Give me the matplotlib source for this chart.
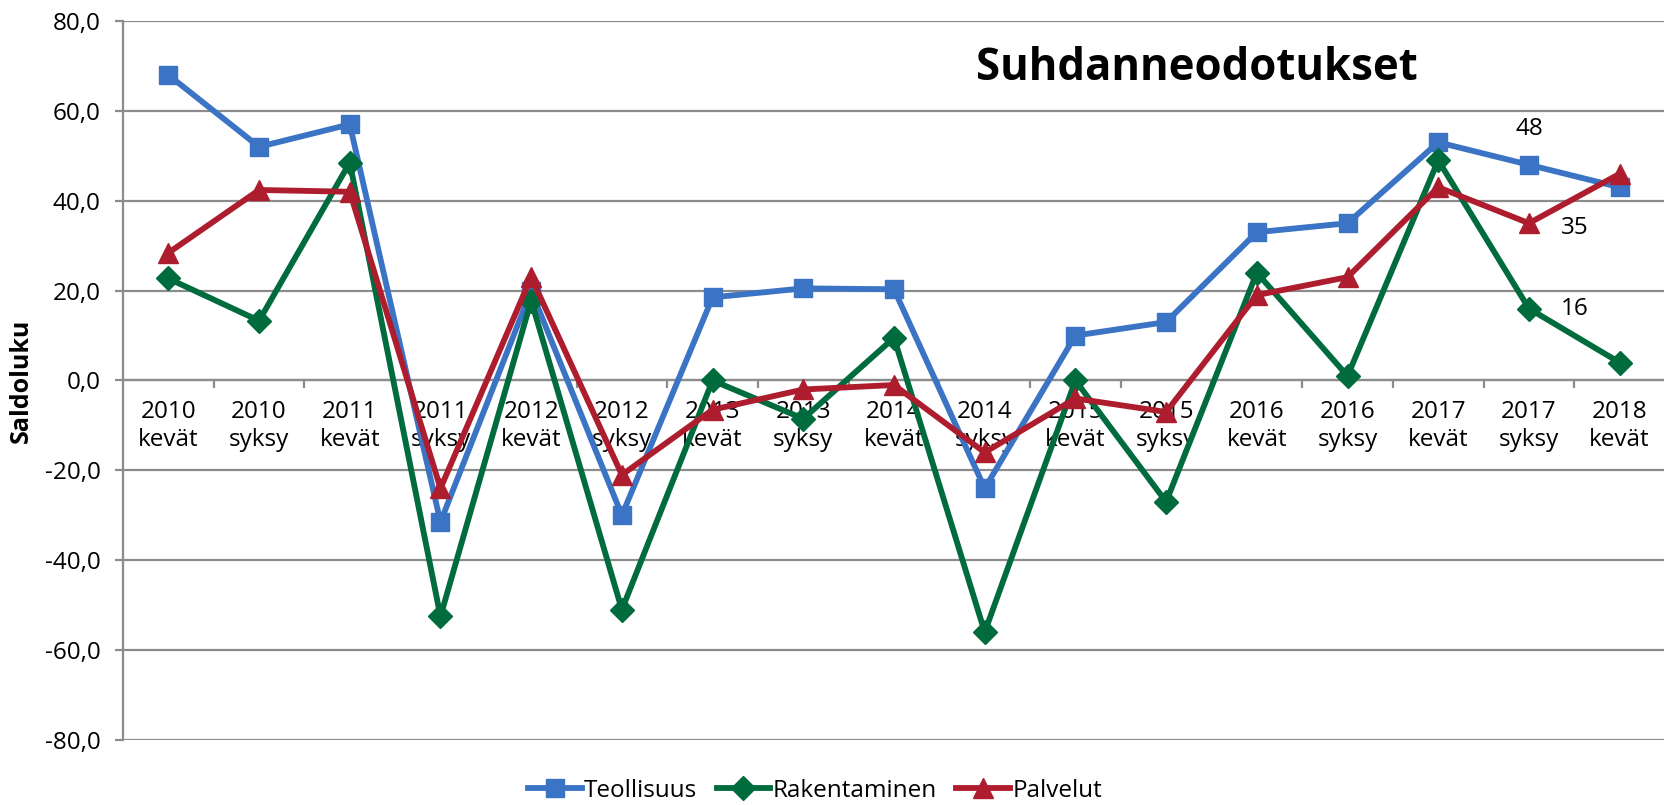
import numpy as np
import matplotlib.pyplot as plt
from matplotlib.ticker import FixedLocator, FuncFormatter

plt.rcParams['font.family'] = ['Open Sans', 'DejaVu Sans']

# Data
periods = ["2010\nkevät", "2010\nsyksy", "2011\nkevät", "2011\nsyksy", "2012\nkevät",
           "2012\nsyksy", "2013\nkevät", "2013\nsyksy", "2014\nkevät", "2014\nsyksy",
           "2015\nkevät", "2015\nsyksy", "2016\nkevät", "2016\nsyksy", "2017\nkevät",
           "2017\nsyksy", "2018\nkevät"]
teollisuus = [68, 52, 57, -31.5, 20, -30, 18.5, 20.5, 20.3, -24, 10, 13, 33, 35, 53, 48, 43]
rakentaminen = [22.7, 13.3, 48.5, -52.5, 17.8, -51, 0, -8.5, 9.5, -56, 0, -27, 24, 1, 49, 16, 4]
palvelut = [28.4, 42.4, 42, -24, 23, -21, -6.5, -2, -1, -16, -4, -7, 19, 23, 43, 35, 46]

yticks = [-80, -60, -40, -20, 0, 20, 40, 60, 80]

grid_col = '#8c8c8c'
fs = 17.5

fig = plt.figure(figsize=(16.65, 8.05), dpi=100)
ax = fig.add_axes([123 / 1665, 1 - 740 / 805, 1 - 123 / 1665, (740 - 21) / 805])

x = np.arange(len(periods))
ax.plot(x, teollisuus, color='#3b73c5', lw=4.2, marker='s', ms=13, label='Teollisuus', zorder=3)
ax.plot(x, rakentaminen, color='#006b3d', lw=4.2, marker='D', ms=12, label='Rakentaminen', zorder=4)
ax.plot(x, palvelut, color='#ad1d2e', lw=4.2, marker='^', ms=14.5, label='Palvelut', zorder=5)

# value labels on the last autumn
ax.text(15, 48 + 8, "48", fontsize=fs, ha='center', va='center')
ax.text(15.5, 35 - 1, "35", fontsize=fs, ha='center', va='center')
ax.text(15.5, 16, "16", fontsize=fs, ha='center', va='center')

ax.set_xlim(-0.5, len(periods) - 0.5)
ax.set_ylim(-80, 80)

ax.set_yticks(yticks)
ax.yaxis.set_major_formatter(FuncFormatter(lambda v, p: f"{v:.1f}".replace('.', ',')))
ax.yaxis.grid(True, color=grid_col, lw=1.6)
ax.set_axisbelow(True)

# category axis crossing at zero
ax.spines['bottom'].set_position(('data', 0))
ax.spines['bottom'].set_color(grid_col)
ax.spines['bottom'].set_linewidth(1.6)
ax.spines['left'].set_color(grid_col)
ax.spines['left'].set_linewidth(1.6)
ax.spines['top'].set_visible(False)
ax.spines['right'].set_visible(False)

ax.xaxis.set_major_locator(FixedLocator(np.arange(0.5, len(periods) - 0.5)))
ax.xaxis.set_major_formatter(FuncFormatter(lambda v, p: ""))
ax.xaxis.set_minor_locator(FixedLocator(x))
ax.set_xticklabels(periods, minor=True, fontsize=fs, linespacing=1.25)
ax.tick_params(axis='x', which='major', length=6, width=1.6, color=grid_col)
ax.tick_params(axis='x', which='minor', length=0, pad=14)
ax.tick_params(axis='y', length=6, width=1.6, color=grid_col, labelsize=fs, pad=10)

ax.set_ylabel("Saldoluku", fontsize=18, fontweight='bold', labelpad=8)

fig.text(1197 / 1665, 1 - 69 / 805, "Suhdanneodotukset", fontsize=31.5, fontweight='bold',
         ha='center', va='center')

fig.legend(loc='center', bbox_to_anchor=(815 / 1665, 1 - 791 / 805), ncol=3, frameon=False,
           fontsize=fs, handlelength=2.2, columnspacing=0.8, handletextpad=0.1)

fig.savefig("out.png", dpi=100)
